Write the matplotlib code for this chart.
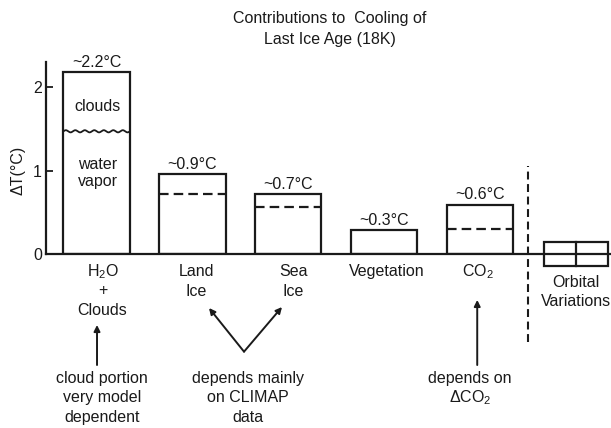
import numpy as np
import matplotlib
matplotlib.use('Agg')
import matplotlib.pyplot as plt

plt.rcParams['font.family'] = ['Liberation Sans', 'DejaVu Sans']
plt.rcParams['mathtext.fontset'] = 'custom'
plt.rcParams['mathtext.rm'] = 'Liberation Sans'
plt.rcParams['mathtext.it'] = 'Liberation Sans:italic'
plt.rcParams['mathtext.bf'] = 'Liberation Sans:bold'

# ---------------- data ----------------
categories = ['H$_2$O\n+\nClouds', 'Land\nIce', 'Sea\nIce', 'Vegetation', 'CO$_2$',
              'Orbital\nVariations']
totals = [2.18, 0.96, 0.72, 0.29, 0.59]          # bar heights (deg C)
inner_levels = [1.47, 0.72, 0.56, None, 0.30]    # split lines inside bars
value_labels = ['~2.2°C', '~0.9°C', '~0.7°C', '~0.3°C', '~0.6°C']
orbital_range = [-0.14, 0.14]
yticks = [0, 1, 2]
title_lines = ['Contributions to  Cooling of', 'Last Ice Age (18K)']
notes = ['cloud portion\nvery model\ndependent',
         'depends mainly\non CLIMAP\ndata',
         'depends on\nΔCO$_2$']

# ---------------- layout / style ----------------
W, H = 611, 428
ink = '#1a1a1a'
fs = 11.5
lw = 1.6
bw = 0.69

fig = plt.figure(figsize=(W / 100, H / 100), dpi=100)
ax = fig.add_axes([46 / W, (H - 254) / H, (W - 46) / W, (254 - 62) / H])
ax.set_xlim(-0.527, 5.365)
ax.set_ylim(0, 2.30)

pos = np.arange(len(categories))

# main bars
ax.bar(pos[:5], totals, width=bw, fill=False, edgecolor=ink, linewidth=lw,
       zorder=3)

# orbital variations box (spans both sides of zero)
ax.bar(pos[5], orbital_range[1] - orbital_range[0], bottom=orbital_range[0],
       width=0.67, fill=False, edgecolor=ink, linewidth=lw, clip_on=False,
       zorder=3)
ax.plot([pos[5], pos[5]], orbital_range, color=ink, lw=lw, clip_on=False,
        zorder=3)

# inner split lines
for i, lvl in enumerate(inner_levels):
    if lvl is None:
        continue
    if i == 0:
        xs = np.linspace(pos[i] - bw / 2, pos[i] + bw / 2, 300)
        ys = lvl + 0.013 * np.sin(2 * np.pi * (xs - xs[0]) / 0.099)
        ax.plot(xs, ys, color=ink, lw=1.3, zorder=3)
    else:
        ax.plot([pos[i] - bw / 2, pos[i] + bw / 2], [lvl, lvl], color=ink,
                lw=lw, ls=(0, (4.3, 2.3)), zorder=3)

# text inside H2O bar
ax.text(pos[0] + 0.015, 1.77, 'clouds', ha='center', va='center',
        fontsize=fs, color=ink)
ax.text(pos[0] + 0.015, 0.975, 'water\nvapor', ha='center', va='center',
        fontsize=fs, color=ink, linespacing=1.15)

# value labels above bars
for p, t, lbl in zip(pos[:5], totals, value_labels):
    ax.annotate(lbl, xy=(p, t), xytext=(0, 3.8), textcoords='offset points',
                ha='center', va='baseline', fontsize=fs, color=ink)

# category labels (stacked lines below the axis)
label_dx_px = [6, 4, 5, 3, -2, 0]
for i, lab in enumerate(categories):
    start = 33 if i == 5 else 22
    for k, line in enumerate(lab.split('\n')):
        off_px = start + k * 19.5
        ax.annotate(line, xy=(pos[i], 0),
                    xytext=(label_dx_px[i] * 0.72, -off_px * 0.72),
                    textcoords='offset points', ha='center', va='baseline',
                    fontsize=fs, color=ink, annotation_clip=False)

# vertical dashed separator
ax.plot([4.5, 4.5], [-1.05, 1.05], color=ink, lw=1.5, ls=(0, (3.8, 2.2)),
        clip_on=False, zorder=3)

# arrows
arrow_kw = dict(arrowstyle='-|>', color=ink, lw=1.4, mutation_scale=9,
                shrinkA=0, shrinkB=0)
arrows = [((0.005, -1.33), (0.005, -0.85)),
          ((1.538, -1.17), (1.173, -0.647)),
          ((1.538, -1.17), (1.934, -0.635)),
          ((3.97, -1.33), (3.97, -0.55))]
for tail, tip in arrows:
    ax.annotate('', xy=tip, xytext=tail, xycoords='data', textcoords='data',
                arrowprops=arrow_kw, annotation_clip=False)

# notes
note_x = [0.057, 1.58, 3.895]
for x, note in zip(note_x, notes):
    for k, line in enumerate(note.split('\n')):
        ax.annotate(line, xy=(x, -1.545), xytext=(0, -k * 19.5 * 0.72),
                    textcoords='offset points', ha='center', va='baseline',
                    fontsize=fs, color=ink, annotation_clip=False)

# axes styling
for s in ['top', 'right']:
    ax.spines[s].set_visible(False)
for s in ['left', 'bottom']:
    ax.spines[s].set_linewidth(lw)
    ax.spines[s].set_color(ink)
ax.set_xticks([])
ax.set_yticks(yticks)
ax.set_yticklabels([str(v) for v in yticks])
ax.tick_params(axis='y', direction='in', length=5, width=1.3, labelsize=fs,
               pad=3, colors=ink)

# y label
fig.text(18 / W, 1 - 170 / H, 'ΔT(°C)', rotation=90, ha='center',
         va='center', fontsize=fs, color=ink)

# title
for k, line in enumerate(title_lines):
    fig.text(330 / W, 1 - (23 + 21 * k) / H, line, ha='center',
             va='baseline', fontsize=fs, color=ink)

fig.savefig('out.png', dpi=100)
